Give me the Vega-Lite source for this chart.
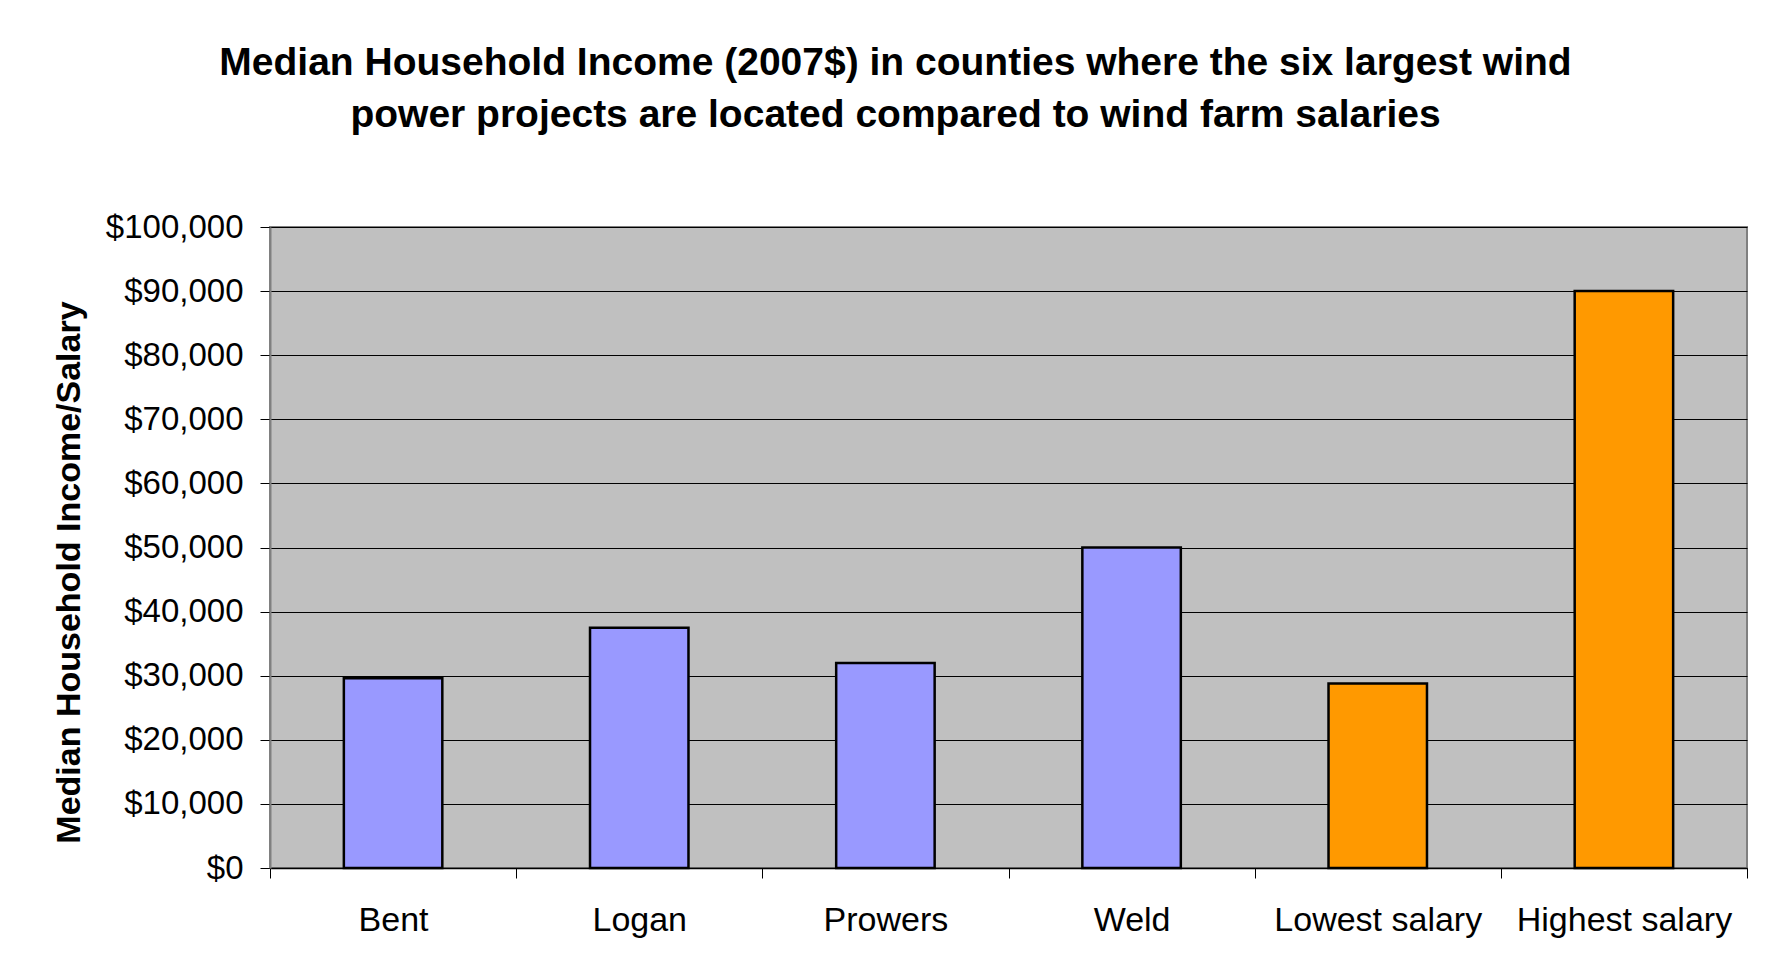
{
  "$schema": "https://vega.github.io/schema/vega-lite/v6.json",
  "autosize": {"type": "none"},
  "width": 1477,
  "height": 641,
  "padding": {"left": 270, "top": 227, "right": 21, "bottom": 105},
  "background": "white",
  "title": {
    "text": ["Median Household Income (2007$) in counties where the six largest wind", "power projects are located compared to wind farm salaries"],
    "font": "Liberation Sans",
    "fontSize": 39,
    "fontWeight": "bold",
    "lineHeight": 52,
    "color": "black",
    "anchor": "middle",
    "frame": "group",
    "dx": -113,
    "offset": 76
  },
  "data": {
    "values": [
      {"name": "Bent", "value": 29600, "kind": "county"},
      {"name": "Logan", "value": 37500, "kind": "county"},
      {"name": "Prowers", "value": 32000, "kind": "county"},
      {"name": "Weld", "value": 50000, "kind": "county"},
      {"name": "Lowest salary", "value": 28800, "kind": "salary"},
      {"name": "Highest salary", "value": 90000, "kind": "salary"}
    ]
  },
  "mark": {"type": "bar", "width": {"band": 0.4}, "stroke": "black", "strokeWidth": 2.5},
  "encoding": {
    "x": {
      "field": "name",
      "type": "nominal",
      "sort": null,
      "scale": {"paddingInner": 0, "paddingOuter": 0},
      "axis": {
        "title": null,
        "labelAngle": 0,
        "labelFont": "Liberation Sans",
        "labelFontSize": 34,
        "labelColor": "black",
        "labelPadding": 25,
        "labelLimit": 0,
        "tickBand": "extent",
        "tickSize": 10,
        "tickColor": "black",
        "tickWidth": 1,
        "domainColor": "black",
        "domainWidth": 1.5,
        "grid": false
      }
    },
    "y": {
      "field": "value",
      "type": "quantitative",
      "scale": {"domain": [0, 100000], "nice": false},
      "axis": {
        "title": "Median Household Income/Salary",
        "titleFont": "Liberation Sans",
        "titleFontSize": 34,
        "titleFontWeight": "bold",
        "titleColor": "black",
        "titlePadding": 19,
        "titleY": 345,
        "values": [0, 10000, 20000, 30000, 40000, 50000, 60000, 70000, 80000, 90000, 100000],
        "format": "$,.0f",
        "labelFont": "Liberation Sans",
        "labelFontSize": 33,
        "labelColor": "black",
        "labelPadding": 17,
        "tickSize": 10,
        "tickColor": "black",
        "tickWidth": 1,
        "domainColor": "#808080",
        "domainWidth": 2,
        "grid": true,
        "gridColor": "black",
        "gridWidth": 1.2
      }
    },
    "color": {
      "field": "kind",
      "type": "nominal",
      "scale": {"domain": ["county", "salary"], "range": ["#9999FF", "#FF9900"]},
      "legend": null
    }
  },
  "config": {
    "view": {"fill": "#C0C0C0", "stroke": "#808080", "strokeWidth": 2}
  }
}
